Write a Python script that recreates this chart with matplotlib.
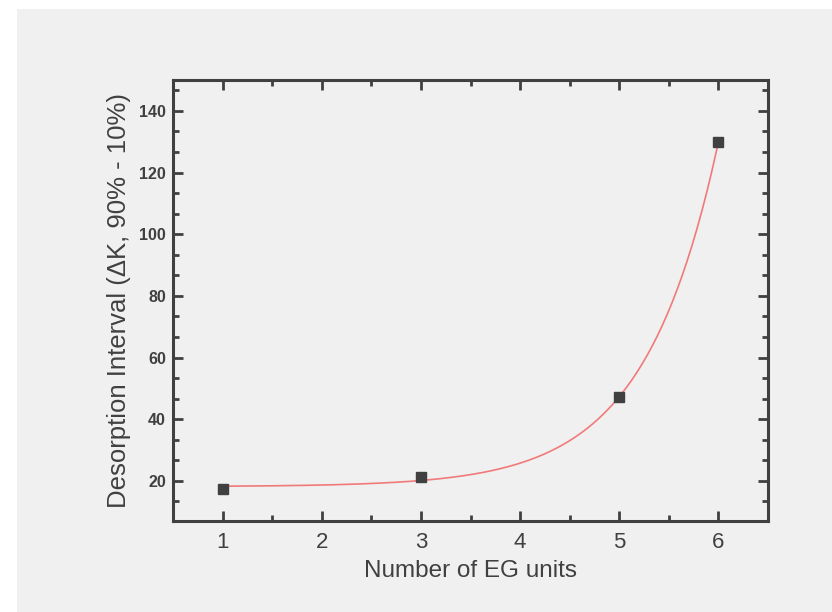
import numpy as np
import matplotlib
matplotlib.use('Agg')
import matplotlib.pyplot as plt
from matplotlib.patches import Rectangle
from matplotlib.ticker import MultipleLocator

# values
eg_units = [1, 3, 5, 6]
desorption_interval = [17.3, 21.3, 47.1, 130.0]

x_ticks = [1, 2, 3, 4, 5, 6]
y_ticks = [20, 40, 60, 80, 100, 120, 140]

ink = '#404040'
bg = '#f0f0f0'

plt.rcParams['font.family'] = ['Liberation Sans', 'DejaVu Sans']


def fit_exp_grow(x, y):
  # y = y0 + A*exp(x/t), scan t and solve y0, A by least squares
  x = np.asarray(x, float)
  y = np.asarray(y, float)
  best = None
  for t in np.linspace(0.3, 5, 4000):
    M = np.column_stack([np.ones_like(x), np.exp(x / t)])
    coef, res, _, _ = np.linalg.lstsq(M, y, rcond=None)
    err = np.sum((M @ coef - y) ** 2)
    if best is None or err < best[0]:
      best = (err, coef[0], coef[1], t)
  return best[1:]


fig = plt.figure(figsize=(8.32, 6.12), dpi=100)
fig.patch.set_facecolor('white')
fig.patches.append(Rectangle((17 / 832, 0), 1, 1 - 9 / 612, transform=fig.transFigure,
                             facecolor=bg, edgecolor='none', zorder=-10))

ax = fig.add_axes([173 / 832, 1 - 521 / 612, 595 / 832, 441 / 612])
ax.set_facecolor(bg)

y0, A, t = fit_exp_grow(eg_units, desorption_interval)
xs = np.linspace(min(eg_units), max(eg_units), 300)
ax.plot(xs, y0 + A * np.exp(xs / t), color='#f07a7a', lw=1.2, zorder=2)
ax.plot(eg_units, desorption_interval, 's', color=ink, ms=7, zorder=3)

ax.set_xlim(0.5, 6.5)
ax.set_ylim(7, 150)
ax.set_xticks(x_ticks)
ax.set_yticks(y_ticks)
ax.xaxis.set_minor_locator(MultipleLocator(0.5))
ax.yaxis.set_minor_locator(MultipleLocator(20 / 3))

for s in ax.spines.values():
  s.set_color(ink)
  s.set_linewidth(2.2)

ax.tick_params(which='both', direction='in', top=True, right=True, color=ink, width=2)
ax.tick_params(which='major', length=7)
ax.tick_params(which='minor', length=4)
ax.tick_params(axis='x', labelsize=16, labelcolor=ink, pad=8)
ax.tick_params(axis='y', labelsize=11.5, labelcolor=ink, pad=5)
for lab in ax.get_yticklabels():
  lab.set_fontweight('bold')

ax.set_xlabel('Number of EG units', fontsize=17.5, color=ink, labelpad=5)
ax.set_ylabel('Desorption Interval (\u0394K, 90% - 10%)', fontsize=18.5, color=ink, labelpad=6)

fig.savefig('out.png', dpi=100, facecolor=fig.get_facecolor())
